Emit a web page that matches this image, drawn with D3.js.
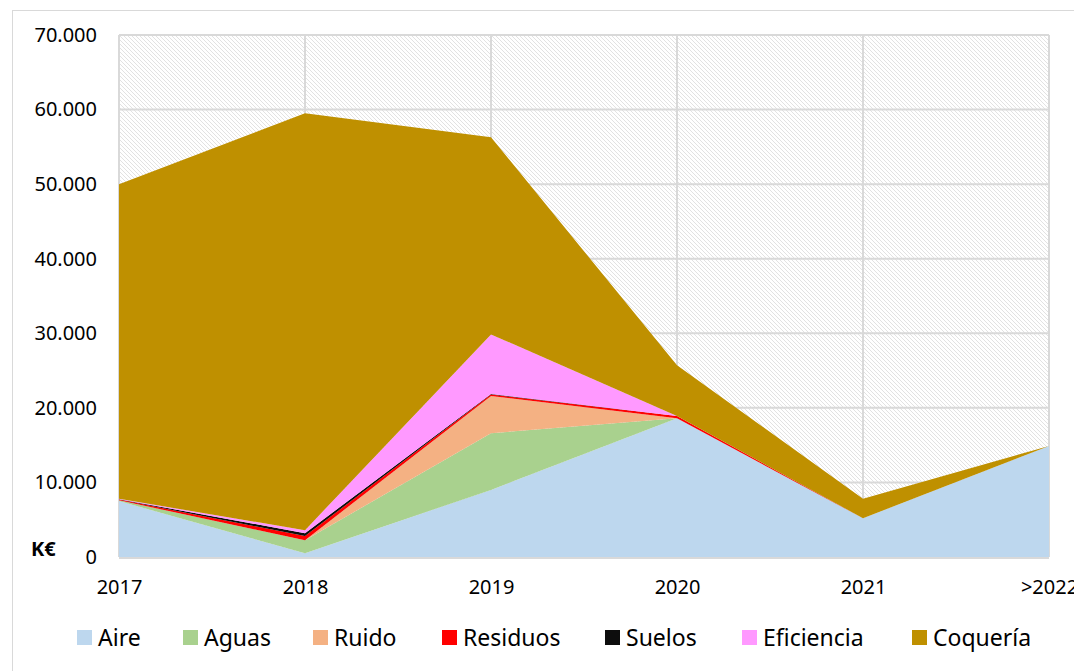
<!DOCTYPE html>
<html>
<head>
<meta charset="utf-8">
<script src="https://cdn.jsdelivr.net/npm/d3@7"></script>
<style>
  body { margin:0; background:#fff; }
  text { font-family:"Noto Sans", sans-serif; fill:#000; }
</style>
</head>
<body>
<div class="chart"></div>
<script>
// values in thousands of euros
var years = ["2017","2018","2019","2020","2021",">2022"];
var series = ["Aire","Aguas","Ruido","Residuos","Suelos","Eficiencia","Coquería"];
var colors = ["#bdd7ee","#a9d18e","#f4b183","#ff0000","#0d0d0d","#ff99ff","#bf9000"];
var aire       = [7500, 500, 9000, 18600, 5200, 14900];
var aguas      = [100, 1750, 7600, 0, 0, 0];
var ruido      = [0, 0, 5000, 0, 0, 0];
var residuos   = [100, 550, 200, 300, 0, 0];
var suelos     = [50, 400, 50, 0, 0, 0];
var eficiencia = [50, 400, 8000, 0, 0, 0];
var coqueria   = [42200, 55900, 26450, 6800, 2600, 0];
var yTicks = [0, 10000, 20000, 30000, 40000, 50000, 60000, 70000];

var options = {
  width:1074, height:671,
  left:119, right:1049, top:35, bottom:557
};

var cols = [aire, aguas, ruido, residuos, suelos, eficiencia, coqueria];
var rows = years.map(function(y, i){
  var r = {year:y};
  series.forEach(function(s, k){ r[s] = cols[k][i]; });
  return r;
});

var svg = d3.select(".chart").append("svg")
  .attr("width", options.width)
  .attr("height", options.height);

// outer chart border
svg.append("rect")
  .attr("x", 12.5).attr("y", 10.5)
  .attr("width", 1070).attr("height", 670)
  .style("fill","none").style("stroke","#d9d9d9");

var pat = svg.append("defs").append("pattern")
  .attr("id","hatch")
  .attr("patternUnits","userSpaceOnUse")
  .attr("width",4).attr("height",4);
pat.append("rect").attr("width",4).attr("height",4).style("fill","#fff");
pat.append("path")
  .attr("d","M-1,-1 L5,5 M3,-1 L5,1 M-1,3 L1,5")
  .style("stroke","#e2e2e2").style("stroke-width",1);

var x = d3.scalePoint().domain(years).range([options.left, options.right]);
var y = d3.scaleLinear().domain([0,70000]).range([options.bottom, options.top]);

svg.append("rect")
  .attr("x", options.left).attr("y", options.top)
  .attr("width", options.right-options.left)
  .attr("height", options.bottom-options.top)
  .style("fill","url(#hatch)");

// gridlines
svg.append("g").selectAll("line").data(yTicks).enter().append("line")
  .attr("x1", options.left).attr("x2", options.right)
  .attr("y1", function(d){ return y(d); }).attr("y2", function(d){ return y(d); })
  .style("stroke","#d9d9d9").style("stroke-width",2);
svg.append("g").selectAll("line").data(years).enter().append("line")
  .attr("x1", function(d){ return x(d); }).attr("x2", function(d){ return x(d); })
  .attr("y1", options.top).attr("y2", options.bottom)
  .style("stroke","#d9d9d9").style("stroke-width",2);

var stack = d3.stack().keys(series);
var area = d3.area()
  .x(function(d){ return x(d.data.year); })
  .y0(function(d){ return y(d[0]); })
  .y1(function(d){ return y(d[1]); });

svg.append("g").selectAll("path").data(stack(rows)).enter().append("path")
  .attr("d", area)
  .style("fill", function(d, i){ return colors[i]; });

// bottom axis line
svg.append("line")
  .attr("x1", options.left).attr("x2", options.right)
  .attr("y1", options.bottom+1).attr("y2", options.bottom+1)
  .style("stroke","#d9d9d9").style("stroke-width",2);

var fmt = function(v){ return v === 0 ? "0" : d3.format(",")(v).replace(/,/g,"."); };
var yAxis = d3.axisLeft(y).tickValues(yTicks).tickFormat(fmt).tickSize(0).tickPadding(22);
var gy = svg.append("g").attr("transform","translate(" + options.left + ",0)").call(yAxis);
gy.select(".domain").remove();
gy.selectAll("text").style("font-size","20px").style("font-family","'Noto Sans', sans-serif");

var xAxis = d3.axisBottom(x).tickSize(0).tickPadding(23);
var gx = svg.append("g").attr("transform","translate(0," + options.bottom + ")").call(xAxis);
gx.select(".domain").remove();
gx.selectAll("text").style("font-size","20px").style("font-family","'Noto Sans', sans-serif");

svg.append("text")
  .attr("x", 31).attr("y", 556)
  .style("font-size","20px").style("font-weight","bold")
  .text("K€");

// legend
var legendX = [77, 183, 313, 442, 605, 742, 912];
var lg = svg.append("g").selectAll("g").data(series).enter().append("g")
  .attr("transform", function(d, i){ return "translate(" + legendX[i] + ",630)"; });
lg.append("rect").attr("width",15).attr("height",15)
  .style("fill", function(d, i){ return colors[i]; });
lg.append("text").attr("x",21).attr("y",16)
  .style("font-size","23px")
  .text(function(d){ return d; });
</script>
</body>
</html>
